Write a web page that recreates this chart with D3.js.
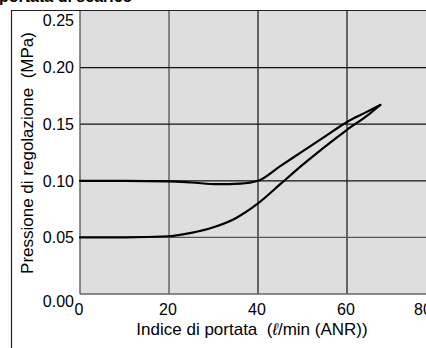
<!DOCTYPE html>
<html>
<head>
<meta charset="utf-8">
<script src="https://cdn.jsdelivr.net/npm/d3@7"></script>
<style>
  body { margin: 0; background: #fff; }
  svg { display: block; font-family: "Liberation Sans", Arial, sans-serif; }
  .title { white-space: pre; }
</style>
</head>
<body>
<svg id="chart" width="426" height="348"></svg>
<script>
// curve data (flow l/min, pressure MPa)
const upperFlow = [0, 10, 20, 25, 31, 36, 40, 45, 50, 55, 60, 64, 67.5];
const upperPress = [0.100, 0.100, 0.0995, 0.0985, 0.097, 0.0975, 0.100, 0.113, 0.126, 0.139, 0.152, 0.160, 0.167];
const lowerFlow = [0, 10, 20, 25, 30, 35, 40, 45, 50, 55, 60, 65, 67.5];
const lowerPress = [0.050, 0.050, 0.051, 0.054, 0.059, 0.067, 0.080, 0.097, 0.114, 0.130, 0.145, 0.159, 0.167];

const xTicks = [0, 20, 40, 60, 80];
const yTicks = [0, 0.05, 0.10, 0.15, 0.20, 0.25];

const svg = d3.select("#chart");
const pLeft = 80, pRight = 436, pTop = 11, pBottom = 294;

const x = d3.scaleLinear().domain([0, 80]).range([pLeft, pRight]);
const y = d3.scaleLinear().domain([0, 0.25]).range([pBottom, pTop]);

// cut-off heading at the very top
svg.append("text")
  .attr("x", -1).attr("y", 2)
  .attr("font-size", 16).attr("font-weight", "bold")
  .text("portata di scarico");

// plot background
svg.append("rect")
  .attr("x", pLeft).attr("y", pTop)
  .attr("width", pRight - pLeft).attr("height", pBottom - pTop)
  .attr("fill", "#dedede");

// grid
const g = svg.append("g");
g.selectAll(".vx")
  .data(xTicks.slice(1, 4))
  .join("line")
  .attr("x1", d => x(d)).attr("x2", d => x(d))
  .attr("y1", pTop).attr("y2", pBottom)
  .attr("stroke", d => d === 20 ? "#666" : "#111")
  .attr("stroke-width", d => d === 20 ? 1.5 : 1.2);
g.selectAll(".hy")
  .data(yTicks.slice(1, 5))
  .join("line")
  .attr("x1", pLeft).attr("x2", pRight)
  .attr("y1", d => y(d)).attr("y2", d => y(d))
  .attr("stroke", d => d === 0.05 ? "#555" : "#111")
  .attr("stroke-width", 1.2);

// plot border (left + bottom)
svg.append("line").attr("x1", pLeft).attr("x2", pLeft).attr("y1", pTop).attr("y2", pBottom)
  .attr("stroke", "#444").attr("stroke-width", 1.2);
svg.append("line").attr("x1", pLeft).attr("x2", pRight).attr("y1", pBottom).attr("y2", pBottom)
  .attr("stroke", "#666").attr("stroke-width", 1.5);

// outer frame
svg.append("path")
  .attr("d", `M11.5,348 V10.5 H426`)
  .attr("fill", "none").attr("stroke", "#222").attr("stroke-width", 1.2);

// curves
const line = d3.line()
  .x(d => x(d[0])).y(d => y(d[1]))
  .curve(d3.curveMonotoneX);
const upper = upperFlow.map((f, i) => [f, upperPress[i]]);
const lower = lowerFlow.map((f, i) => [f, lowerPress[i]]);
svg.selectAll(".curve")
  .data([upper, lower])
  .join("path")
  .attr("d", line)
  .attr("fill", "none")
  .attr("stroke", "#000")
  .attr("stroke-width", 2.2)
  .attr("stroke-linecap", "round");

// y tick labels
svg.selectAll(".ylab")
  .data(yTicks)
  .join("text")
  .attr("x", 74)
  .attr("y", d => d === 0.25 ? y(d) + 9 : d === 0 ? y(d) + 7 : y(d))
  .attr("dy", "0.36em")
  .attr("text-anchor", "end")
  .attr("font-size", 16)
  .text(d => d3.format(".2f")(d));

// x tick labels (last one squeezed in at the right edge)
svg.selectAll(".xlab")
  .data(xTicks)
  .join("text")
  .attr("x", d => Math.min(x(d) - 1, 423))
  .attr("y", 315)
  .attr("text-anchor", "middle")
  .attr("font-size", 16)
  .text(d => d);

// axis titles
const xt = svg.append("text")
  .attr("class", "title")
  .attr("x", 252).attr("y", 335)
  .attr("text-anchor", "middle")
  .attr("font-size", 17);
xt.append("tspan").text("Indice di portata  (");
xt.append("tspan").attr("font-style", "italic").text("ℓ");
xt.append("tspan").text("/min (ANR))");

svg.append("text")
  .attr("class", "title")
  .attr("transform", "translate(33,153) rotate(-90)")
  .attr("text-anchor", "middle")
  .attr("font-size", 17)
  .text("Pressione di regolazione  (MPa)");
</script>
</body>
</html>
